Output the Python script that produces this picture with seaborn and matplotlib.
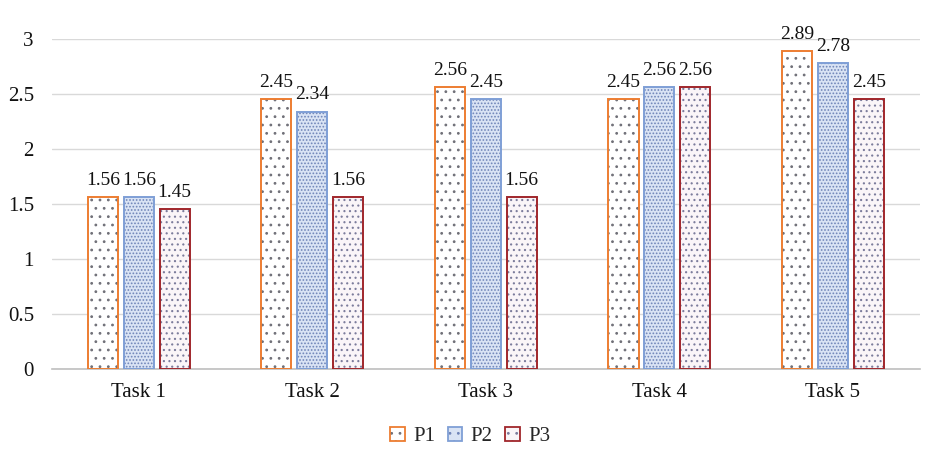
import matplotlib
matplotlib.use("Agg")
import matplotlib.pyplot as plt
import seaborn as sns
import pandas as pd
from matplotlib.patches import Rectangle, Patch

tasks = ["Task 1", "Task 2", "Task 3", "Task 4", "Task 5"]
series = ["P1", "P2", "P3"]
p1 = [1.56, 2.45, 2.56, 2.45, 2.89]
p2 = [1.56, 2.34, 2.45, 2.56, 2.78]
p3 = [1.45, 1.56, 1.56, 2.56, 2.45]
y_ticks = [0, 0.5, 1, 1.5, 2, 2.5, 3]
y_tick_labels = ["0", "0.5", "1", "1.5", "2", "2.5", "3"]

df = pd.DataFrame({
    "Task": tasks * 3,
    "Series": [s for s in series for _ in tasks],
    "Value": p1 + p2 + p3,
})

sns.set_theme(style="white")
plt.rcParams["font.family"] = ["Liberation Serif", "DejaVu Serif"]
plt.rcParams["hatch.linewidth"] = 0.8

edge_colors = {"P1": "#ED7D31", "P2": "#7F9FD6", "P3": "#A0262B"}
face_colors = {"P1": "#FFFFFF", "P2": "#D9E3F4", "P3": "#FAF5F8"}
hatches = {"P1": "..", "P2": ".....", "P3": "..."}
hatch_colors = {"P1": "#707078", "P2": "#6F84B8", "P3": "#7C7C9C"}

fig = plt.figure(figsize=(9.35, 4.62), dpi=100)
ax = fig.add_axes([0.0556, 0.2013, 0.928, 0.7143])

sns.barplot(data=df, x="Task", y="Value", hue="Series", order=tasks,
            hue_order=series, width=0.62, gap=0.16, legend=False, ax=ax,
            errorbar=None)

handles = []
for cont, s in zip(ax.containers, series):
    for bar, v in zip(cont, df[df.Series == s]["Value"]):
        bar.set_facecolor(face_colors[s])
        bar.set_hatch(hatches[s])
        bar.set_edgecolor(hatch_colors[s])
        bar.set_linewidth(0)
        x, y = bar.get_xy()
        w, h = bar.get_width(), bar.get_height()
        ax.add_patch(Rectangle((x, y), w, h, fill=False,
                               edgecolor=edge_colors[s], linewidth=1.4, zorder=3))
        ax.annotate(f"{v:.2f}", (x + w / 2, h), xytext=(0, 6),
                    textcoords="offset points", ha="center", va="bottom",
                    fontsize=14, color="#111111")
    h1 = Patch(facecolor=face_colors[s], hatch=hatches[s][:2],
               edgecolor=hatch_colors[s], linewidth=0)
    h2 = Patch(facecolor="none", edgecolor=edge_colors[s], linewidth=1.3)
    handles.append((h1, h2))

ax.set_ylim(0, 3)
ax.set_xlim(-0.5, 4.5)
ax.set_yticks(y_ticks)
ax.set_yticklabels(y_tick_labels)
ax.yaxis.grid(True, color="#D9D9D9", linewidth=1)
ax.set_axisbelow(True)
for sp in ["top", "right", "left"]:
    ax.spines[sp].set_visible(False)
ax.spines["bottom"].set_color("#BFBFBF")
ax.spines["bottom"].set_linewidth(1.2)
ax.tick_params(axis="both", length=0, labelsize=15, colors="#111111")
ax.tick_params(axis="y", pad=13)
ax.tick_params(axis="x", pad=10)
ax.set_xlabel("")
ax.set_ylabel("")

fig.legend(handles, series, loc="center", bbox_to_anchor=(0.503, 0.055),
           ncol=3, frameon=False, fontsize=15, handlelength=0.7,
           handleheight=0.7, handletextpad=0.4, columnspacing=0.6)

fig.savefig("out.png", dpi=100)
